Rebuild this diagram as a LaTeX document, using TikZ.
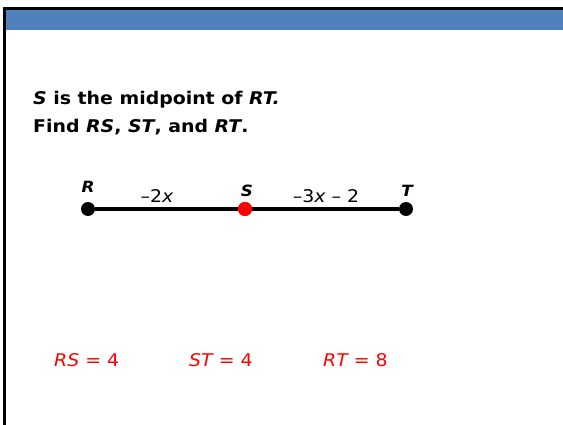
\documentclass[tikz,border=0pt]{standalone}
\usepackage{fontspec}
\setmainfont[FakeStretch=1.08]{DejaVu Sans}
\begin{document}
\begin{tikzpicture}[x=1pt,y=-1pt,
  title/.style={anchor=west,font=\bfseries\fontsize{17.5}{20}\selectfont,inner sep=0pt},
  ptlabel/.style={font=\bfseries\itshape\fontsize{15.5}{17}\selectfont,inner sep=0pt},
  seglabel/.style={font=\fontsize{17.5}{19}\selectfont,inner sep=0pt},
  answer/.style={font=\fontsize{17.5}{20}\selectfont,text=red,inner sep=0pt,anchor=west},
  dot/.style={circle,inner sep=0pt,minimum size=14pt,fill=#1}]
\useasboundingbox (0,0) rectangle (563,425);
\fill[white] (0,0) rectangle (563,425);
\fill[black] (3,7) rectangle (563,10);
\fill[black] (3,7) rectangle (6,425);
\fill[fill={rgb,255:red,79;green,129;blue,189}] (6,10) rectangle (563,30);
\node[title] (l1) at (33,100) {\itshape S\upshape{} is the midpoint of \itshape RT.};
\node[title] (l2) at (33,127) {Find \itshape RS\upshape, \itshape ST\upshape, and \itshape RT\upshape.};
\node[dot=black] (R) at (88,209) {};
\node[dot=red] (S) at (245,209) {};
\node[dot=black] (T) at (406,209) {};
\draw[line width=4pt] (R) -- (S) -- (T);
\node[dot=red] at (S) {};
\node[ptlabel] (Rl) at (88,187) {R};
\node[ptlabel] (Sl) at (247,191) {S};
\node[ptlabel] (Tl) at (407,191) {T};
\node[seglabel] (a) at (157,196) {–2\itshape x};
\node[seglabel] (b) at (326,196) {–3\itshape x\upshape{} – 2};
\node[answer] (rs) at (54,360) {\itshape RS\upshape{} = 4};
\node[answer] (st) at (189,360) {\itshape ST\upshape{} = 4};
\node[answer] (rt) at (323,360) {\itshape RT\upshape{} = 8};
\end{tikzpicture}
\end{document}
